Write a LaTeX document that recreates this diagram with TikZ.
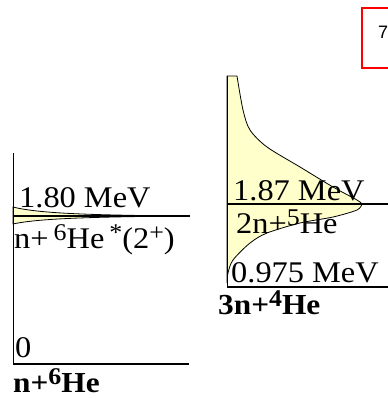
\documentclass[tikz,border=0pt]{standalone}
\usepackage{fontspec}
\setmainfont{Liberation Serif}
\newfontfamily\lvlfont[FakeStretch=1.08]{Liberation Serif}
\newfontfamily\tagfont{Liberation Sans}
\definecolor{lvl-yellow}{HTML}{FFFFCC}
\definecolor{lvl-red}{HTML}{FF0000}
\newcommand{\upidx}[1]{\raisebox{0.26em}{\fontsize{24}{24}\selectfont #1}}

\begin{document}
\begin{tikzpicture}[x=1pt,y=-1pt,
  lvl/.style={line width=1.6pt},
  ground/.style={line width=2.6pt},
  axis/.style={line width=1pt},
  reswidth/.style={draw=black,line width=0.8pt,fill=lvl-yellow},
  lbl/.style={anchor=base west,inner sep=0pt,font=\lvlfont\fontsize{30}{30}\selectfont},
  blbl/.style={anchor=base west,inner sep=0pt,font=\lvlfont\bfseries\fontsize{29}{29}\selectfont}]
  \useasboundingbox (0,0) rectangle (388,399);
  % Venstre: n+6He
  \coordinate (L0) at (13,364);
  \coordinate (Ltop) at (13,153);
  \coordinate (Lend) at (189,364);
  \coordinate (L1) at (13,216);
  \coordinate (L1e) at (190,216);
  % Hoejre: 3n+4He
  \coordinate (R0) at (227,287);
  \coordinate (Rtop) at (227,76);
  \coordinate (Rend) at (388,287);
  \coordinate (R1) at (227,204);
  \coordinate (R1e) at (388,204);
  \coordinate (Rpk) at (362,204);

  % Resonansbredder
  \draw[reswidth] (13,207) .. controls (40,214) and (100,215) .. (175,216)
    .. controls (100,217) and (40,218) .. (13,224) -- cycle;
  \draw[reswidth] (Rtop) -- (237,76)
    -- plot[smooth] coordinates {(237,76) (243,110) (250,130) (267,147) (300,167) (333,187) (357,200) (Rpk)}
    -- plot[smooth] coordinates {(Rpk) (357,210) (333,217) (300,223) (267,233) (250,243) (233,260) (228,273) (227,283)}
    -- cycle;

  % Akser og niveauer
  \draw[axis] (Ltop) -- (L0);
  \draw[lvl] (L1) -- (L1e);
  \draw[ground] (L0) -- (Lend);
  \draw[axis] (Rtop) -- (R0);
  \draw[lvl] (R1) -- (R1e);
  \draw[ground] (R0) -- (Rend);

  % Tekster
  \node[lbl] (e1) at (19,207) {1.80 MeV};
  \node[lbl] (ch1) at (14,248) {n+\,\upidx{6}He\,\upidx{*}(2\upidx{+})};
  \node[lbl] (e0) at (15,357) {0};
  \node[blbl] (gs) at (13,392) {n+\upidx{6}He};
  \node[lbl] (e2) at (233,200) {1.87 MeV};
  \node[lbl] (ch2) at (236,233) {2n+\upidx{5}He};
  \node[lbl] (e3) at (231,282) {0.975 MeV};
  \node[blbl] (thr) at (218,314) {3n+\upidx{4}He};

  % Roed boks
  \draw[lvl-red,line width=1.5pt] (362,8) rectangle (400,68);
  \node[anchor=base west,inner sep=0pt,font=\tagfont\fontsize{18}{18}\selectfont] (tag) at (378,38) {7};
\end{tikzpicture}
\end{document}
